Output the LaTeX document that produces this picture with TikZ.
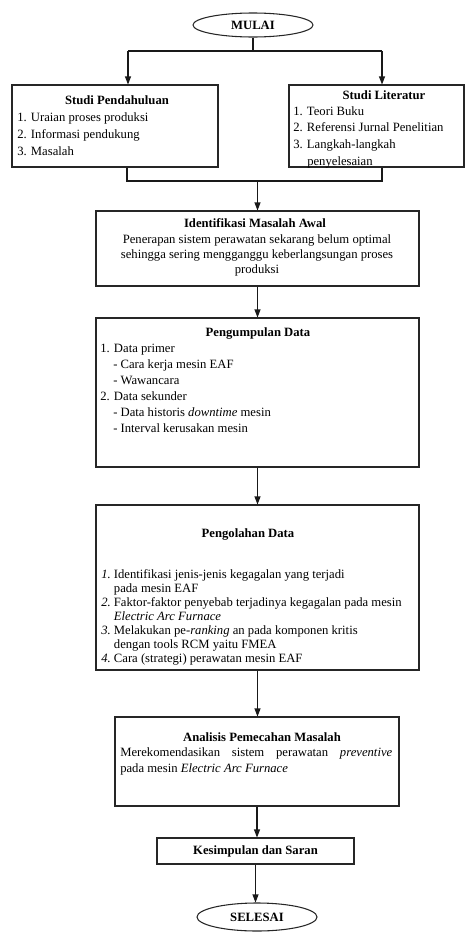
\documentclass[tikz,border=0pt]{standalone}
\usepackage{fontspec}
\setmainfont{Liberation Serif}
\usetikzlibrary{shapes.geometric,arrows.meta}

\tikzset{
    kotak/.style={draw=black!85, line width=0.8pt, inner sep=0pt},
    terminal/.style={draw=black!85, ellipse, line width=0.8pt, inner sep=0pt},
    isi/.style={inner sep=0pt, font=\fontsize{9.5}{12}\selectfont},
    garis/.style={line width=0.8pt, black!90},
    panah/.style={garis, -{Triangle[length=6pt,width=4.5pt]}}
}

\begin{document}
\begin{tikzpicture}[x=0.75pt, y=-0.75pt]
        \useasboundingbox (0,0) rectangle (465,932);

        % kotak-kotak
        \node[terminal, minimum width=90pt, minimum height=18pt, isi] (mulai) at (253,25) {\textbf{MULAI}};
        \node[kotak, minimum width=154.5pt, minimum height=61.5pt] (pendahuluan) at (115,126) {};
        \node[kotak, minimum width=131.25pt, minimum height=61.5pt] (literatur) at (376.5,126) {};
        \node[kotak, minimum width=242.25pt, minimum height=56.25pt] (identifikasi) at (257.5,248.5) {};
        \node[kotak, minimum width=242.25pt, minimum height=111.75pt] (pengumpulan) at (257.5,392.5) {};
        \node[kotak, minimum width=242.25pt, minimum height=123.75pt] (pengolahan) at (257.5,587.5) {};
        \node[kotak, minimum width=213pt, minimum height=66.75pt] (analisis) at (257,761.5) {};
        \node[kotak, minimum width=147.75pt, minimum height=19.5pt, isi] (kesimpulan) at (255.5,851) {\textbf{Kesimpulan dan Saran}};
        \node[terminal, minimum width=90pt, minimum height=21pt, isi] (selesai) at (257,917) {\textbf{SELESAI}};

        % studi pendahuluan
        \node[isi] (judulpendahuluan) at (117,100) {\textbf{Studi Pendahuluan}};
        \node[isi, anchor=north west, align=left, font=\fontsize{9.5}{12.75}\selectfont] (isipendahuluan) at (17,112)
            {1. Uraian proses produksi\\2. Informasi pendukung\\3. Masalah};

        % studi literatur
        \node[isi] (judulliteratur) at (384,95) {\textbf{Studi Literatur}};
        \node[isi, anchor=north west, align=left, font=\fontsize{9.5}{12.5}\selectfont] (isiliteratur) at (293,106)
            {1. Teori Buku\\2. Referensi Jurnal Penelitian\\3. Langkah-langkah\\\hspace*{10.5pt}penyelesaian};

        % identifikasi masalah awal
        \node[isi] (judulidentifikasi) at (255,223) {\textbf{Identifikasi Masalah Awal}};
        \node[isi, anchor=north, align=center, font=\fontsize{9.5}{11.25}\selectfont] (isiidentifikasi) at (257,234)
            {Penerapan sistem perawatan sekarang belum optimal\\sehingga sering mengganggu keberlangsungan proses\\produksi};

        % pengumpulan data
        \node[isi] (judulpengumpulan) at (258,333) {\textbf{Pengumpulan Data}};
        \node[isi, anchor=north west, align=left] (isipengumpulan) at (100,344)
            {1. Data primer\\
             \hspace*{9.75pt}- Cara kerja mesin EAF\\
             \hspace*{9.75pt}- Wawancara\\
             2. Data sekunder\\
             \hspace*{9.75pt}- Data historis \textit{downtime} mesin\\
             \hspace*{9.75pt}- Interval kerusakan mesin};

        % pengolahan data
        \node[isi] (judulpengolahan) at (248,534) {\textbf{Pengolahan Data}};
        \node[isi, anchor=north west, align=left, font=\fontsize{9.5}{10.5}\selectfont] (isipengolahan) at (101,569)
            {\makebox[9.5pt][l]{\textit{1.}}Identifikasi jenis-jenis kegagalan yang terjadi\\
             \hspace*{9.5pt}pada mesin EAF\\
             \makebox[9.5pt][l]{\textit{2.}}Faktor-faktor penyebab terjadinya kegagalan pada mesin\\
             \hspace*{9.5pt}\textit{Electric Arc Furnace}\\
             \makebox[9.5pt][l]{\textit{3.}}Melakukan pe-\textit{ranking} an pada komponen kritis\\
             \hspace*{9.5pt}dengan tools RCM yaitu FMEA\\
             \makebox[9.5pt][l]{\textit{4.}}Cara (strategi) perawatan mesin EAF};

        % analisis pemecahan masalah
        \node[isi] (judulanalisis) at (262,737) {\textbf{Analisis Pemecahan Masalah}};
        \node[isi, anchor=north west, align=left] (isianalisis) at (120,747)
            {\makebox[204pt][s]{Merekomendasikan sistem perawatan \textit{preventive}}\\
             pada mesin \textit{Electric Arc Furnace}};

        % panah
        \coordinate (cabangkiri) at (128,51);
        \coordinate (cabangkanan) at (382,51);
        \draw[garis] (mulai.south) -- (mulai.south |- cabangkiri);
        \draw[garis] (cabangkiri) -- (cabangkanan);
        \draw[panah] (cabangkiri) -- (cabangkiri |- pendahuluan.north);
        \draw[panah] (cabangkanan) -- (cabangkanan |- literatur.north);

        \coordinate (gabungkiri) at (127,181);
        \coordinate (gabungkanan) at (382,181);
        \draw[garis] (gabungkiri |- pendahuluan.south) -- (gabungkiri) -- (gabungkanan) -- (gabungkanan |- literatur.south);
        \draw[panah] (identifikasi.north |- gabungkiri) -- (identifikasi.north);

        \draw[panah] (identifikasi.south) -- (pengumpulan.north);
        \draw[panah] (pengumpulan.south) -- (pengolahan.north);
        \draw[panah] (pengolahan.south) -- (pengolahan.south |- analisis.north);
        \draw[panah] (analisis.south) -- (analisis.south |- kesimpulan.north);
        \draw[panah] (kesimpulan.south) -- (kesimpulan.south |- selesai.north);

    \end{tikzpicture}
\end{document}
